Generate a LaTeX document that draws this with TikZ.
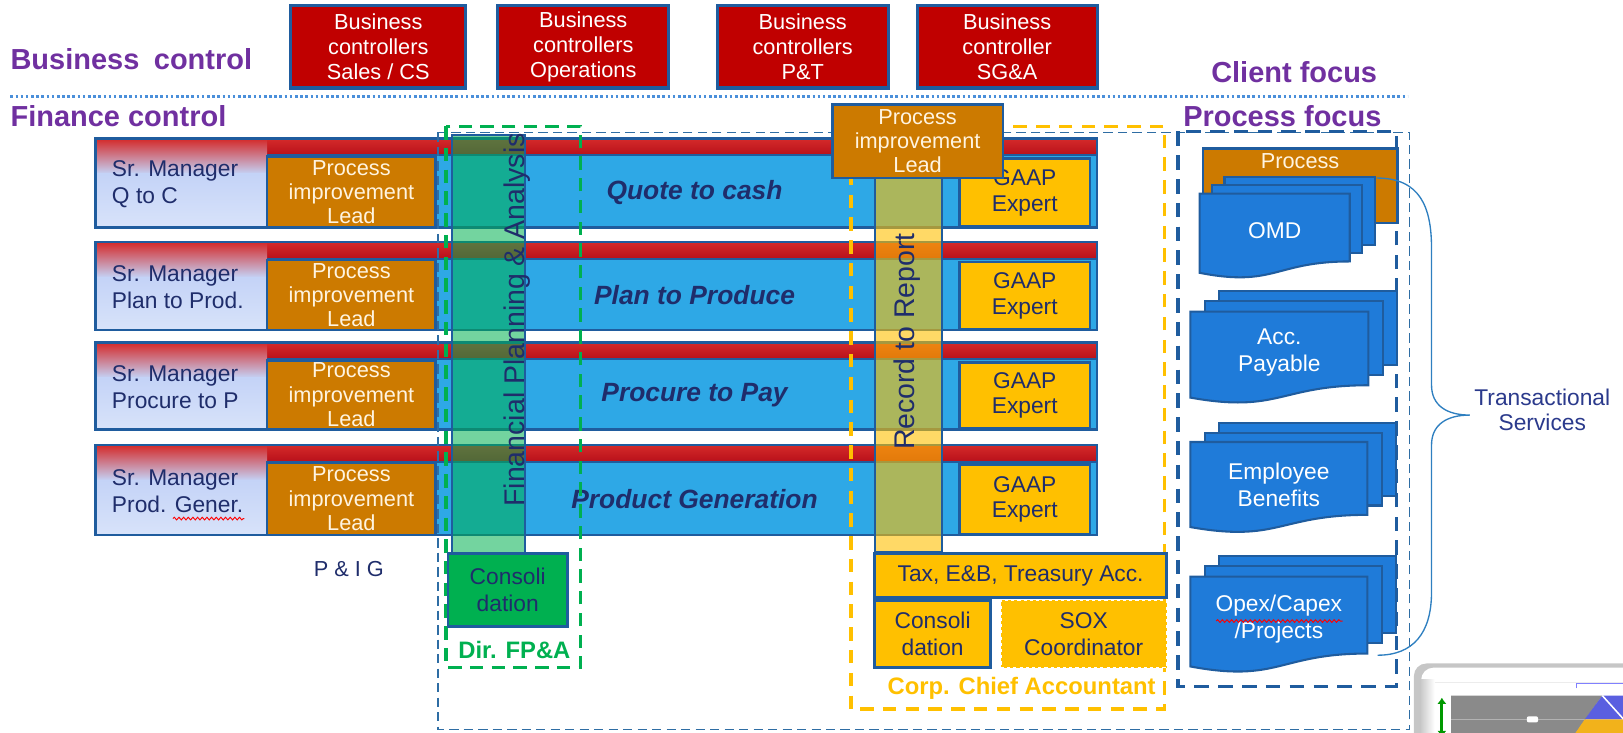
\documentclass[tikz,border=0pt]{standalone}
\usepackage{fontspec}
\setmainfont{Liberation Sans}
\usetikzlibrary{decorations.pathmorphing,arrows.meta}

\definecolor{purp}{HTML}{7030A0}
\definecolor{bcred}{HTML}{C00000}
\definecolor{bord}{HTML}{1F5C9E}
\definecolor{rowblue}{HTML}{2EA8E6}
\definecolor{leadc}{HTML}{CC7A00}
\definecolor{gaapc}{HTML}{FFC000}
\definecolor{fpac}{HTML}{00B050}
\definecolor{navy}{HTML}{1F2D6B}
\definecolor{dotc}{HTML}{4A8FDA}
\definecolor{docblue}{HTML}{1F7BD9}
\definecolor{redtop}{HTML}{D42A2A}
\definecolor{redbot}{HTML}{B8101A}
\definecolor{lav}{HTML}{C4D3F7}
\definecolor{lavb}{HTML}{D8E3FA}
\definecolor{dashblue}{HTML}{2E6DA4}
\definecolor{cream}{HTML}{FFF4E0}
\definecolor{bracec}{HTML}{2E7FC0}
\definecolor{tsnavy}{HTML}{2B3A8C}
\definecolor{tgray}{HTML}{8A8A8A}
\definecolor{tblue}{HTML}{5A5FE0}
\definecolor{tyellow}{HTML}{F2B21B}

\tikzset{
  lbl/.style={text=purp, anchor=west, inner sep=0pt, font=\fontsize{28}{30}\selectfont\bfseries},
  bcbox/.style={draw=bord, line width=3pt, fill=bcred, text=white, minimum height=80pt, inner sep=0pt, align=center, font=\fontsize{21}{24}\selectfont},
  leadbox/.style={draw=bord, line width=2.5pt, fill=leadc, text=cream, minimum width=163pt, inner sep=0pt, align=center, font=\fontsize{21}{23.5}\selectfont},
  gaapbox/.style={draw=bord, line width=2.5pt, fill=gaapc, text=navy, minimum width=126pt, inner sep=0pt, align=center, font=\fontsize{22}{25}\selectfont},
  mgrtext/.style={text=navy, anchor=west, align=left, inner sep=0pt, font=\fontsize{22}{26}\selectfont},
  titletext/.style={text=navy, inner sep=0pt, font=\fontsize{25.5}{28}\selectfont\bfseries\itshape},
  coltext/.style={rotate=90, text=navy, inner sep=0pt, font=\fontsize{27.5}{30}\selectfont},
  ybox/.style={draw=bord, line width=2.5pt, fill=gaapc, text=navy, inner sep=0pt, align=center, font=\fontsize{22}{26}\selectfont},
  docpage/.style={draw=bord, line width=2pt, fill=docblue},
  doctext/.style={text=white, align=center, inner sep=0pt, font=\fontsize{22}{26}\selectfont},
  squig/.style={red, line width=0.9pt, decorate, decoration={snake, amplitude=1.3pt, segment length=4.5pt}},
}

\newcommand\myrow[5]{%
  \fill[rowblue] (92,#2) rectangle (1060,#3);
  \shade[top color=redtop, bottom color=redbot] (92,#2) rectangle (1060,{#2+16});
  \shade[top color=redtop, bottom color=lav] (92,#2) rectangle (258,{#2+34});
  \shade[top color=lav, bottom color=lavb] (92,{#2+34}) rectangle (258,#3);
  \draw[bord, line width=2pt] (258,{#2+16}) -- (1060,{#2+16});
  \draw[bord, line width=2.5pt] (92,#2) rectangle (1060,#3);
  \node[mgrtext] (mgr#1) at (108,{(#2+#3)/2+1}) {#4};
  \node[leadbox, minimum height={#3-#2-17}] (lead#1) at (339.5,{(#2+17+#3)/2}) {Process\\improvement\\Lead};
  \node[titletext] (title#1) at (671,{(#2+16+#3)/2+1}) {#5};
  \node[gaapbox, minimum height={#3-#2-20}] (gaap#1) at (990,{(#2+18+#3)/2}) {GAAP\\Expert};
}

\newcommand\mydocs[9]{%
  \draw[docpage] ({#1+2*#5},{#2-2*#6}) rectangle ({#1+#3+2*#5},{#2-2*#6+0.8*#4});
  \draw[docpage] ({#1+#5},{#2-#6}) rectangle ({#1+#3+#5},{#2-#6+0.8*#4});
  \draw[docpage] (#1,#2) -- ({#1+#3},#2) -- ({#1+#3},{#2+0.8*#4})
     .. controls ({#1+0.5*#3},{#2+0.8*#4}) and ({#1+0.5*#3},{#2+1.107*#4}) .. (#1,{#2+0.934*#4}) -- cycle;
  \node[doctext] (#7) at ({#1+0.5*#3},#8) {#9};
}

\begin{document}
\begin{tikzpicture}[x=1pt,y=-1pt]
\useasboundingbox (0,0) rectangle (1568,708);

% top labels and separator
\node[lbl] (bizctl) at (10,57) {Business\enspace control};
\node[lbl] (finctl) at (10,112) {Finance control};
\node[lbl] (client) at (1170,70) {Client focus};
\node[lbl] (procfocus) at (1143,112) {Process focus};
\coordinate (dotL) at (10,93);
\coordinate (dotR) at (1360,93);
\draw[dotc, line width=3pt, dash pattern=on 2.5pt off 2.5pt] (dotL) -- (dotR);

% business controllers
\node[bcbox, minimum width=169pt] (bc1) at (365.5,45) {Business\\controllers\\Sales / CS};
\node[bcbox, minimum width=165pt] (bc2) at (563.5,45) {Business\\controllers\\Operations};
\node[bcbox, minimum width=165pt] (bc3) at (775.5,45) {Business\\controllers\\P\&T};
\node[bcbox, minimum width=174pt] (bc4) at (973,45) {Business\\controller\\SG\&A};

% process rows
\myrow{1}{134}{220}{Sr. Manager\\Q to C}{Quote to cash}
\myrow{2}{234}{319}{Sr. Manager\\Plan to Prod.}{Plan to Produce}
\myrow{3}{331}{415}{Sr. Manager\\Procure to P}{Procure to Pay}
\myrow{4}{430}{517}{Sr. Manager\\Prod. Gener.}{Product Generation}
\draw[squig] (167,501) -- (236,501);

% vertical columns
\draw[bord, line width=2pt, fill=fpac, fill opacity=0.55] (437,130) rectangle (507,535);
\draw[bord, line width=2pt, fill=gaapc, fill opacity=0.6] (845,150) rectangle (910,533);
\node[coltext] (fpatext) at (500,309) {Financial Planning \& Analysis};
\node[coltext] (r2rtext) at (876,330) {Record to Report};

% dashed groupings
\draw[dashblue, line width=1.3pt, dash pattern=on 9pt off 5pt] (423,128) rectangle (1362,705);
\draw[fpac, line width=3.2pt, dash pattern=on 13pt off 8pt] (431,122) rectangle (561,645);
\draw[gaapc, line width=3.2pt, dash pattern=on 13pt off 9pt] (822,122) rectangle (1125,685);
\draw[bord, line width=3.2pt, dash pattern=on 14pt off 9pt] (1138,127) rectangle (1349,663);

% record to report lead
\node[leadbox, minimum width=165pt, minimum height=71pt] (r2rlead) at (886.5,136.5) {Process\\improvement\\Lead};

% bottom items
\node[text=navy, inner sep=0pt, font=\fontsize{21}{24}\selectfont] (pig) at (337,550) {P \& I G};
\node[draw=bord, line width=2.5pt, fill=fpac, text=navy, minimum width=115pt, minimum height=70pt, inner sep=0pt, align=center, font=\fontsize{22}{26}\selectfont] (fpacons) at (490.5,570) {Consoli\\dation};
\node[text=fpac, inner sep=0pt, font=\fontsize{23}{25}\selectfont\bfseries] (dirfpa) at (497,628) {Dir. FP\&A};
\node[ybox, minimum width=282pt, minimum height=42pt] (tax) at (986,556) {Tax, E\&B, Treasury Acc.};
\node[ybox, minimum width=112pt, minimum height=65pt] (accons) at (901,612.5) {Consoli\\dation};
\node[ybox, draw=white, dashed, line width=1.5pt, minimum width=160pt, minimum height=65pt] (sox) at (1047,612.5) {SOX\\Coordinator};
\node[text=gaapc, inner sep=0pt, font=\fontsize{23}{25}\selectfont\bfseries] (cca) at (987,665) {Corp. Chief Accountant};

% process focus documents
\node[draw=bord, line width=2.5pt, fill=leadc, minimum width=188pt, minimum height=72pt, anchor=north west, inner sep=0pt] (procbox) at (1161,142) {};
\node[text=cream, inner sep=0pt, font=\fontsize{21}{24}\selectfont] (proctext) at (1256,156) {Process};
\mydocs{1159}{187}{145}{82}{12}{8}{omd}{223}{OMD}
\mydocs{1150}{301}{172}{89}{14}{10}{accpay}{341}{Acc.\\Payable}
\mydocs{1150}{427}{171}{88}{14}{9}{empben}{468}{Employee\\Benefits}
\mydocs{1150}{557}{171}{93}{14}{10}{opex}{598}{Opex/Capex\\/Projects}
\draw[squig] (1175,600) -- (1297,600);

% brace
\coordinate (brA) at (1330,172);
\coordinate (brTip) at (1420,401);
\coordinate (brB) at (1331,633);
\draw[bracec, line width=1.3pt] (brA) .. controls (1372,172) and (1383,200) .. (1383,240)
  -- (1383,372) .. controls (1383,392) and (1398,401) .. (brTip)
  .. controls (1398,401) and (1383,410) .. (1383,430)
  -- (1383,572) .. controls (1383,612) and (1365,633) .. (brB);
\node[text=tsnavy, align=center, inner sep=0pt, font=\fontsize{22}{25}\selectfont] (ts) at (1490,396) {Transactional\\Services};

% clipped thumbnail in the corner
\fill[gray!45, rounded corners=12pt] (1366,641) rectangle (1600,740);
\fill[white, rounded corners=12pt] (1373,645) rectangle (1600,740);
\shade[left color=gray!40, right color=white] (1373,656) rectangle (1386,720);
\draw[gray!15, line width=1pt] (1386,659) -- (1568,659);
\fill[tgray] (1402,672) -- (1548,672) -- (1514,720) -- (1402,720) -- cycle;
\draw[gray!60, line width=1.5pt] (1402,695) -- (1531,695);
\fill[white, rounded corners=2pt] (1475,692) rectangle (1486,698);
\fill[tblue] (1548,672) -- (1575,672) -- (1575,695) -- (1531,695) -- cycle;
\fill[tyellow] (1531,695) -- (1575,695) -- (1575,720) -- (1514,720) -- cycle;
\draw[white, line width=1.5pt] (1548,672) -- (1575,702);
\draw[blue!50, line width=1pt] (1523,665) -- (1523,660) -- (1575,660);
\coordinate (ga1) at (1393,674);
\coordinate (ga2) at (1393,712);
\draw[{Latex[length=6pt,width=9pt]}-{Latex[length=6pt,width=9pt]}, green!60!black, line width=3pt] (ga1) -- (ga2);
\end{tikzpicture}
\end{document}
